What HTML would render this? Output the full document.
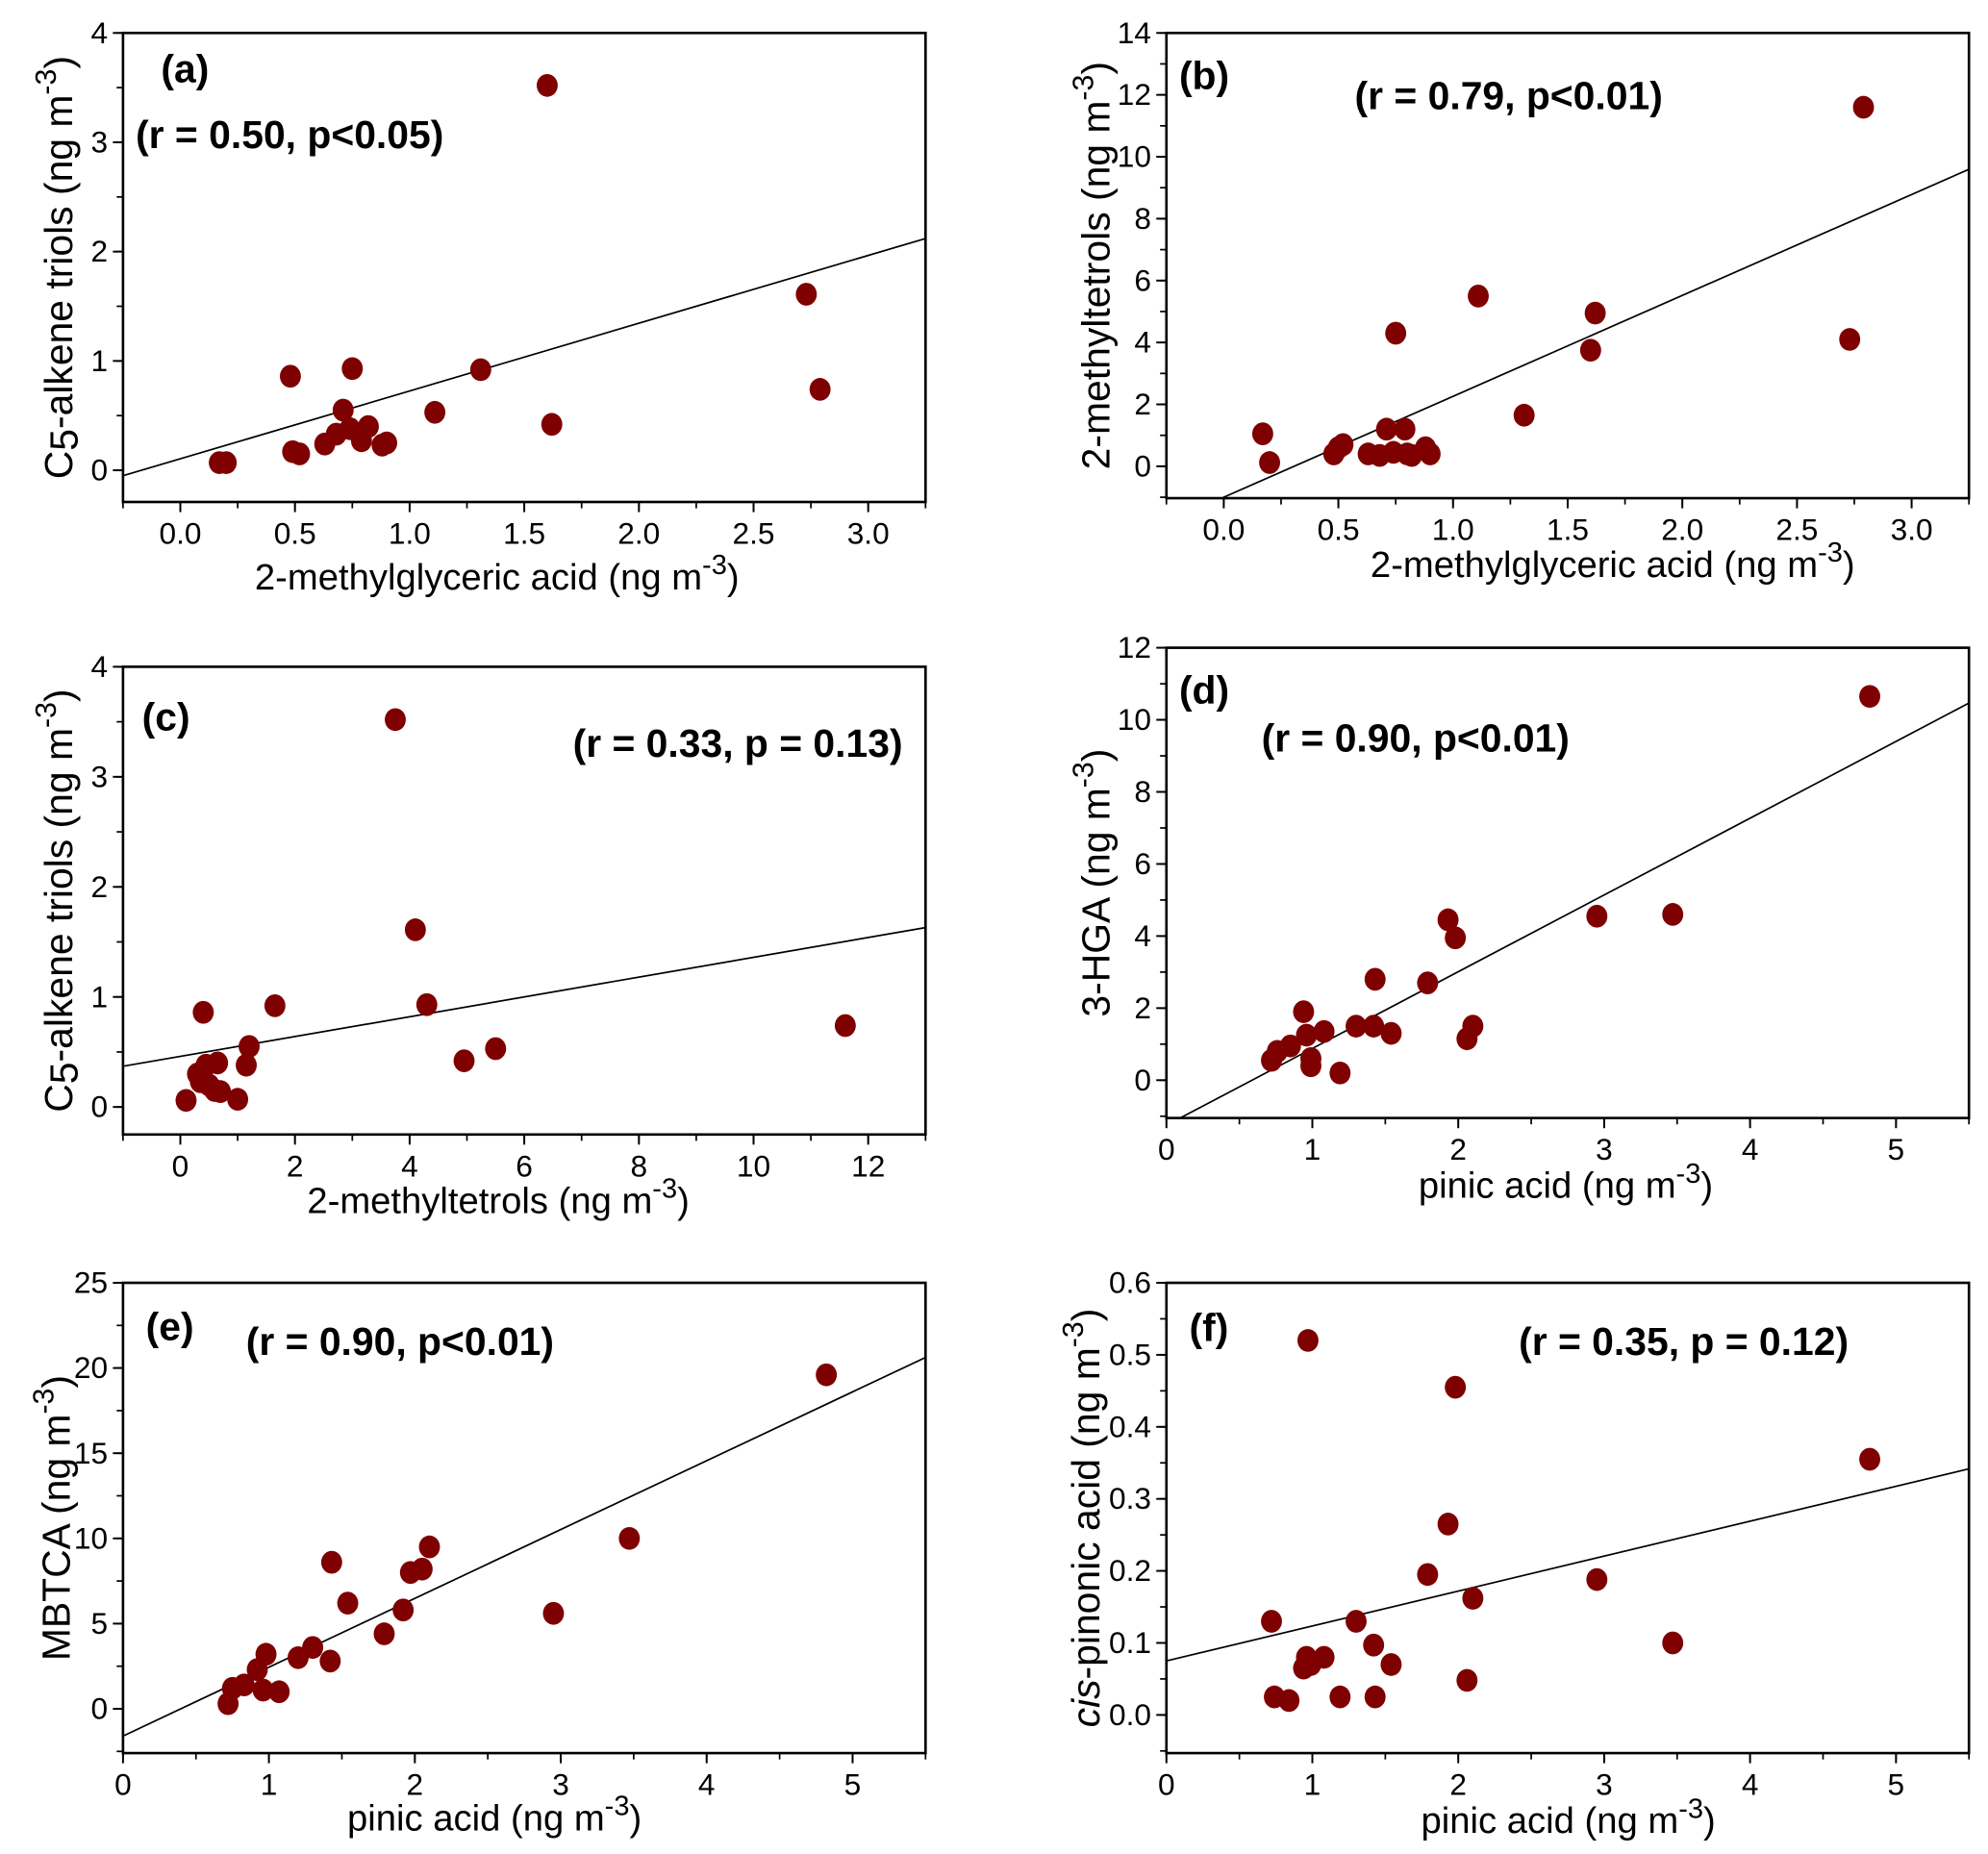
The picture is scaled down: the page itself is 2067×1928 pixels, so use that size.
<!DOCTYPE html>
<html><head><meta charset="utf-8"><style>
html,body{margin:0;padding:0;background:#fff}
svg{display:block}
text{font-family:"Liberation Sans Narrow","Liberation Sans",sans-serif;fill:#000}
.tk{font-size:24px}
.ttl{font-size:29px}
.yt{font-family:"Liberation Sans",sans-serif;font-size:31px}
.ann{font-size:31px;font-weight:bold}
</style></head><body>
<svg id="fig" width="2067" height="1928" viewBox="0 0 1568 1462.6" xmlns="http://www.w3.org/2000/svg"></svg>
<script>
// Panel (a)
const aX = [0.17,0.2,0.48,0.49,0.52,0.63,0.68,0.71,0.75,0.74,0.79,0.82,0.88,0.9,1.11,1.31,1.60,1.62,2.73,2.79];
const aY = [0.07,0.07,0.86,0.17,0.15,0.24,0.33,0.55,0.93,0.38,0.27,0.40,0.23,0.25,0.53,0.92,3.52,0.42,1.61,0.74];
// Panel (b)
const bX = [0.17,0.2,0.48,0.5,0.52,0.63,0.68,0.71,0.75,0.74,0.79,0.8,0.82,0.88,0.9,1.11,1.31,1.60,1.62,2.73,2.79];
const bY = [1.05,0.12,0.4,0.6,0.7,0.4,0.35,1.2,4.3,0.45,1.2,0.4,0.35,0.6,0.4,5.5,1.65,3.75,4.95,4.1,11.6];
// Panel (c)
const cX = [0.1,0.3,0.35,0.4,0.45,0.5,0.6,0.65,0.7,1.0,1.15,1.2,1.65,3.75,4.1,4.3,4.95,5.5,11.6];
const cY = [0.06,0.3,0.23,0.86,0.38,0.2,0.15,0.4,0.14,0.07,0.38,0.55,0.92,3.52,1.61,0.93,0.42,0.53,0.74];
// Panel (d)
const dX = [0.72,0.76,0.85,0.94,0.96,0.99,0.99,1.08,1.19,1.3,1.42,1.43,1.54,1.79,1.93,1.98,2.06,2.1,2.95,3.47,4.82];
const dY = [0.55,0.8,0.95,1.9,1.25,0.6,0.4,1.35,0.2,1.5,1.5,2.8,1.3,2.7,4.45,3.95,1.15,1.5,4.55,4.6,10.65];
// Panel (e)
const eX = [0.72,0.75,0.83,0.92,0.96,0.98,1.07,1.2,1.3,1.42,1.43,1.54,1.79,1.92,1.97,2.05,2.1,2.95,3.47,4.82];
const eY = [0.3,1.2,1.4,2.3,1.1,3.2,1.0,3.0,3.6,2.8,8.6,6.2,4.4,5.8,8.0,8.2,9.5,5.6,10.0,19.6];
// Panel (f)
const fX = [0.72,0.74,0.84,0.94,0.97,0.96,0.99,1.08,1.19,1.3,1.42,1.43,1.54,1.79,1.93,1.98,2.06,2.1,2.95,3.47,4.82];
const fY = [0.13,0.025,0.02,0.065,0.52,0.08,0.07,0.08,0.025,0.13,0.097,0.025,0.07,0.195,0.265,0.455,0.048,0.162,0.188,0.1,0.355];
// Fit lines [slope, intercept]
const aFit = [0.62,0.105];
const bFit = [3.26,-1.0];
const cFit = [0.09,0.46];
const dFit = [2.13,-1.25];
const eFit = [4.04,-1.6];
const fFit = [0.0485,0.075];
// Tick labels
const aXT = ["0.0","0.5","1.0","1.5","2.0","2.5","3.0"];
const aYT = ["0","1","2","3","4"];
const bYT = ["0","2","4","6","8","10","12","14"];
const cXT = ["0","2","4","6","8","10","12"];
const dXT = ["0","1","2","3","4","5"];
const dYT = ["0","2","4","6","8","10","12"];
const eYT = ["0","5","10","15","20","25"];
const fYT = ["0.0","0.1","0.2","0.3","0.4","0.5","0.6"];

const NS="http://www.w3.org/2000/svg";
const svg=document.getElementById('fig');
function mk(tag,attrs,parent){const e=document.createElementNS(NS,tag);for(const k in attrs)e.setAttribute(k,attrs[k]);(parent||svg).appendChild(e);return e;}

const panels=[
 {id:'a',box:[97,26,730,396],xr:[-0.25,3.25],yr:[-0.29,4],X:aX,Y:aY,fit:aFit,xt:aXT,yt:aYT,xminor:0.25,yminor:0.5,
  xtitle:'2-methylglyceric acid',xtx:392,xty:465,ytitle:['C','5','-alkene triols'],ytx:46,lbl:[127,65],ann:'(r = 0.50, p<0.05)',annp:[107,117,'start']},
 {id:'b',box:[920,26,1553,393],xr:[-0.25,3.25],yr:[-1.03,14],X:bX,Y:bY,fit:bFit,xt:aXT,yt:bYT,xminor:0.25,yminor:1,
  xtitle:'2-methylglyceric acid',xtx:1272,xty:455,ytitle:['2-methyltetrols'],ytx:864,lbl:[930,70],ann:'(r = 0.79, p<0.01)',annp:[1190,86,'middle']},
 {id:'c',box:[97,526,730,895],xr:[-1,13],yr:[-0.25,4],X:cX,Y:cY,fit:cFit,xt:cXT,yt:aYT,xminor:1,yminor:0.5,
  xtitle:'2-methyltetrols',xtx:393,xty:957,ytitle:['C','5','-alkene triols'],ytx:46,lbl:[112,576],ann:'(r = 0.33, p = 0.13)',annp:[712,597,'end']},
 {id:'d',box:[920,511,1553,882],xr:[0,5.5],yr:[-1.05,12],X:dX,Y:dY,fit:dFit,xt:dXT,yt:dYT,xminor:0.5,yminor:1,
  xtitle:'pinic acid',xtx:1235,xty:945,ytitle:['3-HGA'],ytx:864,lbl:[930,555],ann:'(r = 0.90, p<0.01)',annp:[995,593,'start']},
 {id:'e',box:[97,1012,730,1383],xr:[0,5.5],yr:[-2.6,25],X:eX,Y:eY,fit:eFit,xt:dXT,yt:eYT,xminor:0.5,yminor:2.5,
  xtitle:'pinic acid',xtx:390,xty:1444,ytitle:['MBTCA'],ytx:44,lbl:[115,1057],ann:'(r = 0.90, p<0.01)',annp:[194,1069,'start']},
 {id:'f',box:[920,1012,1553,1383],xr:[0,5.5],yr:[-0.053,0.6],X:fX,Y:fY,fit:fFit,xt:dXT,yt:fYT,xminor:0.5,yminor:0.05,
  xtitle:'pinic acid',xtx:1237,xty:1446,ytitle:['cis','-pinonic acid'],ytx:856,lbl:[938,1058],ann:'(r = 0.35, p = 0.12)',annp:[1328,1069,'middle']}
];

panels.forEach(p=>{
  const [x0,y0,x1,y1]=p.box;
  const sx=v=>x0+(v-p.xr[0])/(p.xr[1]-p.xr[0])*(x1-x0);
  const sy=v=>y1-(v-p.yr[0])/(p.yr[1]-p.yr[0])*(y1-y0);
  const g=mk('g',{});
  
  
  const fl=mk('line',{x1:sx(p.xr[0]),y1:sy(p.fit[0]*p.xr[0]+p.fit[1]),x2:sx(p.xr[1]),y2:sy(p.fit[0]*p.xr[1]+p.fit[1]),stroke:'#000','stroke-width':1.3},g);
  const cid='clip'+p.id;
  const cp=mk('clipPath',{id:cid},g);mk('rect',{x:x0,y:y0,width:x1-x0,height:y1-y0},cp);
  fl.setAttribute('clip-path','url(#'+cid+')');
  
  
  p.X.forEach((xv,i)=>{
    const c=mk('ellipse',{cx:sx(xv),cy:sy(p.Y[i]),rx:8.3,ry:9,fill:'#7f0000'},g);
    
    
  });
  const fr=mk('rect',{x:x0,y:y0,width:x1-x0,height:y1-y0,fill:'none',stroke:'#000','stroke-width':2},g);
  
  
  const xa=mk('g',{},g);
  
  
  p.xt.forEach(t=>{
    const v=parseFloat(t);const X=sx(v);
    mk('line',{x1:X,y1:y1,x2:X,y2:y1+8,stroke:'#000','stroke-width':1.5},xa);
    const tx=mk('text',{x:X,y:y1+33,'text-anchor':'middle',class:'tk'},xa);tx.textContent=t;
    
    
  });
  for(let v=Math.ceil(p.xr[0]/p.xminor)*p.xminor;v<=p.xr[1]+1e-9;v+=p.xminor){
    mk('line',{x1:sx(v),y1:y1,x2:sx(v),y2:y1+5,stroke:'#000','stroke-width':1.3},xa);
  }
  const ya=mk('g',{},g);
  
  
  p.yt.forEach(t=>{
    const v=parseFloat(t);const Y=sy(v);
    mk('line',{x1:x0,y1:Y,x2:x0-8,y2:Y,stroke:'#000','stroke-width':1.5},ya);
    const tx=mk('text',{x:x0-12,y:Y+8,'text-anchor':'end',class:'tk'},ya);tx.textContent=t;
    
    
  });
  for(let v=Math.ceil(p.yr[0]/p.yminor)*p.yminor;v<=p.yr[1]+1e-9;v+=p.yminor){
    mk('line',{x1:x0,y1:sy(v),x2:x0-5,y2:sy(v),stroke:'#000','stroke-width':1.3},ya);
  }
  const xt=mk('text',{x:p.xtx,y:p.xty,'text-anchor':'middle',class:'ttl'},g);
  
  
  xt.innerHTML=p.xtitle+' (ng m<tspan dy="-12" font-size="22">-3</tspan><tspan dy="12">)</tspan>';
  const cy=(y0+y1)/2;
  const yt=mk('text',{x:0,y:0,'text-anchor':'middle',class:'yt',transform:'translate('+(p.ytx+11)+','+cy+') rotate(-90)'},g);
  
  
  let s='';
  if(p.ytitle.length===3) s=p.ytitle[0]+'<tspan dy="4">'+p.ytitle[1]+'</tspan><tspan dy="-4">'+p.ytitle[2]+'</tspan>';
  else if(p.ytitle.length===2) s='<tspan font-style="italic">'+p.ytitle[0]+'</tspan>'+p.ytitle[1];
  else s=p.ytitle[0];
  yt.innerHTML=s+' (ng m<tspan dy="-13" font-size="23">-3</tspan><tspan dy="13">)</tspan>';
  const lb=mk('text',{x:p.lbl[0],y:p.lbl[1],class:'ann'},g);lb.textContent='('+p.id+')';
  
  
  const an=mk('text',{x:p.annp[0],y:p.annp[1],'text-anchor':p.annp[2],class:'ann'},g);an.textContent=p.ann;
  
  
});
</script>
</body></html>
